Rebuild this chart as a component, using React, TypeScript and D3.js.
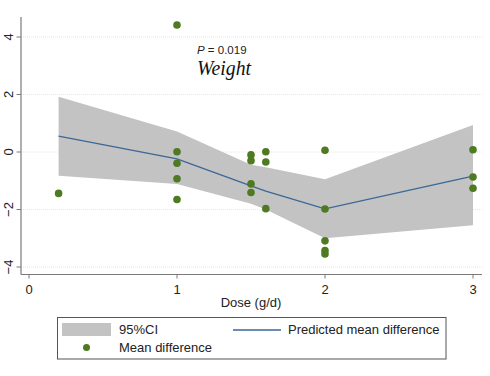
import React from "react";
import * as d3 from "d3";

const knotDose = [0.2, 1, 1.5, 1.6, 2, 3];
const predicted = [0.55, -0.24, -1.18, -1.36, -1.98, -0.84];
const ciUpper = [1.92, 0.71, -0.44, -0.53, -0.95, 0.94];
const ciLower = [-0.83, -1.11, -1.8, -2.0, -3.0, -2.55];

const pointDose = [0.2, 1, 1, 1, 1, 1, 1.5, 1.5, 1.5, 1.5, 1.6, 1.6, 1.6, 2, 2, 2, 2, 2, 3, 3, 3];
const pointDiff = [-1.44, 4.42, 0.01, -0.39, -0.93, -1.65, -0.1, -0.3, -1.11, -1.41, 0.01, -0.35, -1.97, 0.06, -1.98, -3.09, -3.43, -3.55, 0.08, -0.87, -1.26];

const xTicks = [0, 1, 2, 3];
const yTicks = [-4, -2, 0, 2, 4];

const W = 490, H = 376;
const FONT = "Liberation Sans, Arial, sans-serif";

export default function App() {
  const x = d3.scaleLinear().domain([0, 3]).range([29, 473]);
  const y = d3.scaleLinear().domain([-4, 4]).range([267, 37]);
  const left = 21, right = 482, top = 17, bottom = 274.5;

  const band = d3
    .area<number>()
    .x((_, i) => x(knotDose[i]))
    .y0((_, i) => y(ciLower[i]))
    .y1((_, i) => y(ciUpper[i]))(knotDose as any);
  const line = d3
    .line<number>()
    .x((_, i) => x(knotDose[i]))
    .y((_, i) => y(predicted[i]))(knotDose as any);

  const green = "#4e7a21";
  const blue = "#3b6796";
  const bandCol = "#c3c3c3";
  const axisCol = "#7a7a7a";

  return (
    <svg width={W} height={H} style={{ position: "absolute", left: 0, top: 0, background: "#fff" }}>
      <rect x={0} y={0} width={W} height={H} fill="#fff" />
      {yTicks.map((t) => (
        <line key={"g" + t} x1={left} x2={right} y1={y(t)} y2={y(t)} stroke="#e2e8ee" strokeWidth={1} strokeDasharray="1,1" />
      ))}
      <path d={band || ""} fill={bandCol} />
      <path d={line || ""} fill="none" stroke={blue} strokeWidth={1.3} />
      {pointDose.map((d, i) => (
        <circle key={"p" + i} cx={x(d)} cy={y(pointDiff[i])} r={3.8} fill={green} />
      ))}
      <line x1={left} x2={left} y1={top} y2={bottom} stroke={axisCol} strokeWidth={1.2} />
      <line x1={left} x2={right} y1={bottom} y2={bottom} stroke={axisCol} strokeWidth={1.2} />
      {yTicks.map((t) => (
        <g key={"y" + t}>
          <line x1={left - 4.5} x2={left} y1={y(t)} y2={y(t)} stroke={axisCol} strokeWidth={1} />
          <text
            transform={`translate(${13},${y(t)}) rotate(-90)`}
            textAnchor="middle"
            fontFamily={FONT}
            fontSize={13}
            fill="#222"
          >
            {t < 0 ? "\u2212" + Math.abs(t) : String(t)}
          </text>
        </g>
      ))}
      {xTicks.map((t) => (
        <g key={"x" + t}>
          <line x1={x(t)} x2={x(t)} y1={bottom} y2={bottom + 4} stroke={axisCol} strokeWidth={1} />
          <text x={x(t)} y={294} textAnchor="middle" fontFamily={FONT} fontSize={13} fill="#222">
            {t}
          </text>
        </g>
      ))}
      <text x={251} y={307} textAnchor="middle" fontFamily={FONT} fontSize={13} fill="#222">
        Dose (g/d)
      </text>
      <text x={197} y={54} fontFamily={FONT} fontSize={11.5} fill="#222">
        <tspan fontStyle="italic">P</tspan> = 0.019
      </text>
      <text x={197} y={75} fontFamily="Liberation Serif, serif" fontStyle="italic" fontSize={20} fill="#111" textLength={54} lengthAdjust="spacingAndGlyphs">
        Weight
      </text>
      <rect x={57.5} y={317.5} width={388.5} height={41.5} fill="#fff" stroke="#555" strokeWidth={1} />
      <rect x={62} y={323} width={49} height={13} fill={bandCol} />
      <text x={119} y={334} fontFamily={FONT} fontSize={13} fill="#222">95%CI</text>
      <line x1={233} x2={281} y1={330} y2={330} stroke={blue} strokeWidth={1.3} />
      <text x={288} y={334} fontFamily={FONT} fontSize={13} fill="#222">Predicted mean difference</text>
      <circle cx={86.5} cy={347.5} r={3.5} fill={green} />
      <text x={119} y={352} fontFamily={FONT} fontSize={13} fill="#222">Mean difference</text>
    </svg>
  );
}
